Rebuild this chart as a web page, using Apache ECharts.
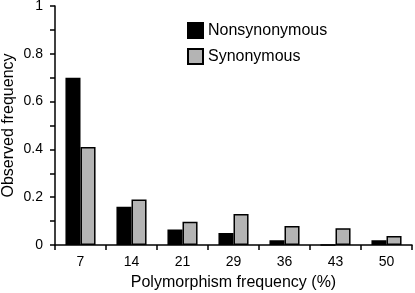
<!DOCTYPE html>
<html>
<head>
<meta charset="utf-8">
<script src="https://cdn.jsdelivr.net/npm/echarts@6/dist/echarts.min.js"></script>
<style>
  html, body { margin: 0; padding: 0; background: #fff; }
  #chart { width: 415px; height: 293px; }
</style>
</head>
<body>
<div id="chart"></div>
<script>
const categories = ["7", "14", "21", "29", "36", "43", "50"];
const nonsynonymous = [0.70, 0.16, 0.065, 0.05, 0.02, 0, 0.02];
const synonymous = [0.41, 0.19, 0.097, 0.13, 0.08, 0.07, 0.038];
const yTicks = [0, 0.2, 0.4, 0.6, 0.8, 1];

const font = "Liberation Sans, Arial, sans-serif";

const chart = echarts.init(document.getElementById("chart"));

const barStyle = (color) => ({
  color: color,
  borderColor: "#000",
  borderWidth: 1.5,
});

chart.setOption({
  animation: false,
  textStyle: { fontFamily: font },
  grid: { left: 55, right: 3, top: 6, bottom: 48, outerBoundsMode: "none", containLabel: false },
  legend: {
    orient: "vertical",
    left: 187,
    top: 22,
    padding: 0,
    itemWidth: 15,
    itemHeight: 15,
    itemGap: 9,
    icon: "rect",
    textStyle: { fontSize: 16, color: "#000", fontFamily: font },
    data: ["Nonsynonymous", "Synonymous"],
  },
  xAxis: {
    type: "category",
    data: categories,
    name: "Polymorphism frequency (%)",
    nameLocation: "middle",
    nameGap: 30,
    nameMoveOverlap: false,
    nameTextStyle: { fontSize: 16, color: "#000" },
    axisLine: { lineStyle: { color: "#000", width: 1.5 } },
    axisTick: { show: true, length: 5, inside: false, lineStyle: { color: "#000", width: 1.5 } },
    axisLabel: { fontSize: 14, color: "#000", margin: 10 },
  },
  yAxis: {
    type: "value",
    min: yTicks[0],
    max: yTicks[yTicks.length - 1],
    interval: 0.2,
    name: "Observed frequency",
    nameLocation: "middle",
    nameGap: 38,
    nameMoveOverlap: false,
    nameTextStyle: { fontSize: 16, color: "#000" },
    axisLine: { show: true, lineStyle: { color: "#000", width: 1.5 } },
    axisTick: { show: true, length: 5, lineStyle: { color: "#000", width: 1.5 } },
    minorTick: { show: true, splitNumber: 2, length: 5, lineStyle: { color: "#000", width: 1.5 } },
    splitLine: { show: false },
    axisLabel: { fontSize: 14, color: "#000", margin: 12 },
  },
  series: [
    {
      name: "Nonsynonymous",
      type: "bar",
      data: nonsynonymous,
      barGap: "0%",
      barCategoryGap: "41%",
      itemStyle: barStyle("#000"),
    },
    {
      name: "Synonymous",
      type: "bar",
      data: synonymous,
      barGap: "0%",
      barCategoryGap: "41%",
      itemStyle: barStyle("#b4b4b4"),
    },
  ],
});
</script>
</body>
</html>
